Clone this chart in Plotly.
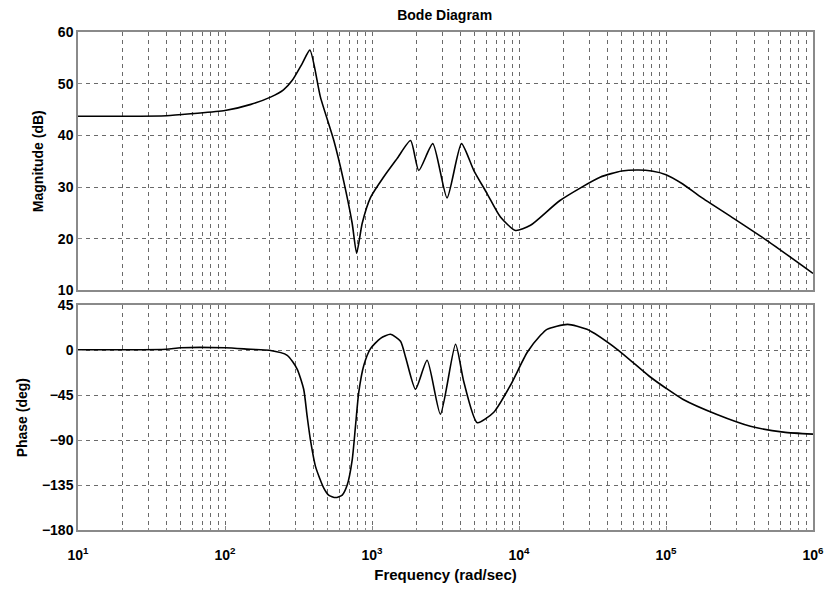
import plotly.graph_objects as go
from plotly.subplots import make_subplots

# Magnitude response, read point by point (rad/sec, dB)
mag_freq = [10, 20, 40, 60, 100, 150, 204, 250, 286, 335, 378,
            446, 550, 640, 733, 786, 858, 978, 1197, 1480, 1830,
            2080, 2590, 3240, 4060, 4930, 6080, 7480, 9460, 11970,
            19000, 35600, 50000, 65000, 80000, 100000, 130000, 172000,
            290000, 490000, 1000000]
mag_db = [43.7, 43.7, 43.8, 44.2, 44.8, 46.0, 47.4, 48.8, 50.6, 53.9, 56.5,
          47.4, 39.0, 31.3, 23.0, 17.2, 23.0, 28.0, 31.9, 35.5, 39.0,
          33.2, 38.4, 27.9, 38.4, 33.2, 28.7, 24.2, 21.6, 22.6,
          27.4, 31.9, 33.1, 33.3, 33.1, 32.4, 30.6, 28.1,
          23.9, 19.6, 13.3]

# Phase response (rad/sec, deg)
phase_freq = [10, 20, 40, 50, 100, 150, 200, 265, 309, 343, 362, 381,
              413, 470, 507, 565, 627, 678, 733, 772, 813, 880, 977, 1143, 1336,
              1563, 1700, 1977, 2370, 2920, 3700, 4220, 5200, 6740,
              8750, 11380, 14000, 15500, 21400, 29000, 46500, 77000,
              100000, 130000, 220000, 375000, 630000, 1000000]
phase_deg = [0.5, 0.5, 1.0, 2.5, 2.5, 1.0, 0.0, -5.0, -18.5, -39.0, -66.0, -89.5,
             -116.5, -138.0, -145.0, -147.5, -145.0, -135.0, -110.0, -76.0, -42.0, -15.0, 1.7, 12.0, 16.0,
             9.0, -8.0, -39.0, -10.0, -64.0, 6.0, -32.0, -72.5, -62.0,
             -35.0, -2.0, 15.0, 21.0, 26.0, 21.0, 1.0, -26.0,
             -38.0, -49.0, -64.0, -76.0, -82.0, -84.0]

mag_ticks = [10, 20, 30, 40, 50, 60]
phase_ticks = [-180, -135, -90, -45, 0, 45]
decades = [1, 2, 3, 4, 5, 6]
decade_labels = ["<b>10<sup>%d</sup></b>" % d for d in decades]
minor_vals = [m * 10 ** d for d in range(1, 6) for m in range(2, 10)]

FONT = "Liberation Sans"
GRID = "#6a6a6a"
FRAME = "#8a8a8a"

fig = make_subplots(rows=2, cols=1, vertical_spacing=0.03,
                    row_heights=[0.535, 0.465])

fig.add_trace(go.Scatter(x=mag_freq, y=mag_db, mode="lines",
                         line=dict(color="black", width=1.6, shape="spline",
                                   smoothing=0.6),
                         showlegend=False), row=1, col=1)
fig.add_trace(go.Scatter(x=phase_freq, y=phase_deg, mode="lines",
                         line=dict(color="black", width=1.6, shape="spline",
                                   smoothing=0.6),
                         showlegend=False), row=2, col=1)

xcommon = dict(type="log", range=[1, 6], tickvals=[10 ** d for d in decades],
               automargin=False,
               showgrid=True, gridcolor=GRID, griddash="4px,4px", gridwidth=1,
               showline=True, linecolor=FRAME, linewidth=1.5, mirror=True,
               ticks="inside", ticklen=4, tickcolor=FRAME, zeroline=False,
               minor=dict(tickmode="array", tickvals=minor_vals, showgrid=True,
                          gridcolor=GRID, griddash="4px,4px", gridwidth=1,
                          ticks="inside", ticklen=2, tickcolor=FRAME))
ycommon = dict(showgrid=True, gridcolor=GRID, griddash="4px,4px", gridwidth=1,
               automargin=False,
               showline=True, linecolor=FRAME, linewidth=1.5, mirror=True,
               ticks="inside", ticklen=4, tickcolor=FRAME, zeroline=False,
               tickfont=dict(family=FONT, size=14, color="black", weight="bold"))

fig.update_xaxes(**xcommon, showticklabels=False, row=1, col=1)
fig.update_xaxes(**xcommon, ticktext=decade_labels, ticklabelstandoff=11,
                 tickfont=dict(family=FONT, size=14, color="black"),
                 title=dict(text="<b>Frequency (rad/sec)</b>",
                            font=dict(family=FONT, size=15, color="black"),
                            standoff=8),
                 row=2, col=1)
fig.update_yaxes(**ycommon, range=[10, 60], tickvals=mag_ticks,
                 title=dict(text="<b>Magnitude (dB)</b>",
                            font=dict(family=FONT, size=14, color="black"),
                            standoff=11),
                 row=1, col=1)
fig.update_yaxes(**ycommon, range=[-180, 45], tickvals=phase_ticks,
                 title=dict(text="<b>Phase (deg)</b>",
                            font=dict(family=FONT, size=14, color="black"),
                            standoff=11),
                 row=2, col=1)

fig.update_layout(
    width=828, height=594,
    margin=dict(l=78, r=15, t=32, b=64),
    paper_bgcolor="white", plot_bgcolor="white",
    title=dict(text="<b>Bode Diagram</b>", x=0.537, xanchor="center",
               y=0.975, yanchor="middle",
               font=dict(family=FONT, size=14, color="black")),
)

fig.write_html("out.html")
